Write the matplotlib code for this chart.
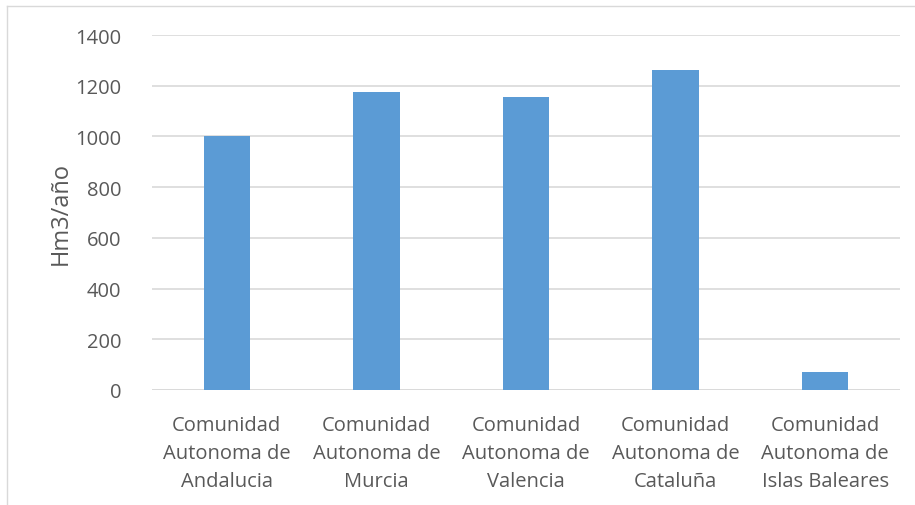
import matplotlib
matplotlib.use("Agg")
import matplotlib.pyplot as plt
from matplotlib.lines import Line2D

categories = [
    "Comunidad\nAutonoma de\nAndalucia",
    "Comunidad\nAutonoma de\nMurcia",
    "Comunidad\nAutonoma de\nValencia",
    "Comunidad\nAutonoma de\nCataluña",
    "Comunidad\nAutonoma de\nIslas Baleares",
]
values = [1000, 1175, 1155, 1262, 71]
yticks = [0, 200, 400, 600, 800, 1000, 1200, 1400]
ylabel = "Hm3/año"

plt.rcParams['font.family'] = ['Open Sans', 'DejaVu Sans']
text_color = "#595959"

fig = plt.figure(figsize=(9.15, 5.06), dpi=100)
ax = fig.add_axes([152/915, 1-391/506, (900-152)/915, (391-36)/506])

x = list(range(len(categories)))
ax.bar(x, values, width=0.31, color="#5B9BD5", zorder=3)
ax.set_xlim(-0.5, len(categories)-0.5)
ax.set_ylim(0, 1400)
ax.set_yticks(yticks)
ax.set_xticks(x)
ax.set_xticklabels(categories, fontsize=14.5, color=text_color, linespacing=1.55)
ax.tick_params(axis='y', labelsize=14.5, labelcolor=text_color, length=0, pad=22)
ax.tick_params(axis='x', length=0, pad=18)
ax.yaxis.grid(True, color="#D9D9D9", linewidth=1.2, zorder=0)
for s in ax.spines.values():
    s.set_visible(False)
ax.axhline(0, color="#D9D9D9", linewidth=1.2, zorder=2)
ax.set_ylabel(ylabel, fontsize=17, color=text_color, labelpad=2)

fig.add_artist(Line2D([7/915, 1], [1-7/506, 1-7/506], color="#D9D9D9", linewidth=1, transform=fig.transFigure))
fig.add_artist(Line2D([7/915, 7/915], [0, 1-7/506], color="#D9D9D9", linewidth=1, transform=fig.transFigure))

fig.savefig("out.png", dpi=100)
